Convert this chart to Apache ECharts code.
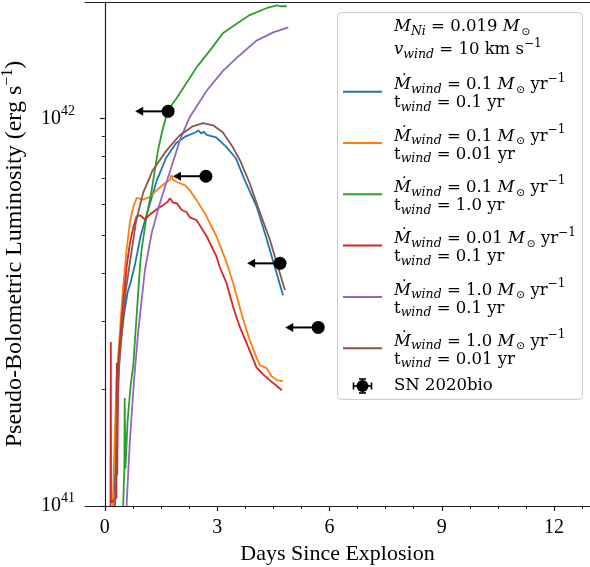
<!DOCTYPE html>
<html lang="en">
<head>
<meta charset="UTF-8">
<title>SN 2020bio wind models</title>
<style>
    html, body { margin: 0; padding: 0; background: #fff; }
    #main { width: 590px; height: 567px; }
</style>
</head>
<body>
<div id="main"></div>
<script src="https://cdn.jsdelivr.net/npm/echarts@6/dist/echarts.min.js"></script>
<script>
// model light curves, [days since explosion, erg/s]
var mdot01_t01 = [[0.21,1.0e41],[0.27,1.17e41],[0.40,2.57e41],[0.53,3.20e41],[0.61,3.57e41],[0.69,3.78e41],[0.80,4.18e41],
    [0.96,5.00e41],[1.15,5.80e41],[1.39,6.93e41],[1.63,7.90e41],[1.90,8.64e41],[2.16,9.00e41],[2.43,9.22e41],[2.50,9.32e41],
    [2.58,9.15e41],[2.64,9.26e41],[2.72,9.08e41],[2.97,8.95e41],[3.23,8.48e41],[3.50,7.90e41],[3.74,6.93e41],[4.06,5.91e41],
    [4.33,4.86e41],[4.54,4.14e41],[4.76,3.50e41]];
var mdot01_t001 = [[0.21,1.0e41],[0.31,2.11e41],[0.40,2.79e41],[0.48,3.61e41],[0.58,4.58e41],[0.67,5.40e41],[0.76,5.92e41],
    [0.85,6.24e41],[1.02,6.18e41],[1.20,6.27e41],[1.38,6.53e41],[1.60,6.80e41],[1.74,6.95e41],[1.78,7.15e41],[1.82,6.95e41],
    [1.92,6.86e41],[2.14,6.73e41],[2.27,6.53e41],[2.45,6.16e41],[2.67,5.70e41],[2.98,4.97e41],[3.25,4.26e41],[3.42,3.78e41],
    [3.70,3.02e41],[3.87,2.68e41],[4.05,2.42e41],[4.14,2.31e41],[4.32,2.27e41],[4.46,2.16e41],[4.62,2.11e41],[4.76,2.10e41]];
var mdot01_t1 = [[0.49,1.0e41],[0.52,1.24e41],[0.53,1.90e41],[0.55,1.25e41],[0.61,1.67e41],[0.69,2.05e41],[0.76,2.31e41],
    [0.85,3.11e41],[0.94,4.18e41],[0.98,4.58e41],[1.11,5.56e41],[1.25,6.53e41],[1.42,8.28e41],[1.52,9.17e41],[1.68,10.5e41],
    [1.92,11.3e41],[2.19,12.4e41],[2.46,13.6e41],[2.81,15.0e41],[3.15,16.6e41],[3.53,17.6e41],[3.87,18.5e41],[4.33,19.3e41],
    [4.60,19.6e41],[4.68,19.5e41],[4.86,19.5e41]];
var mdot001_t01 = [[0.15,1.0e41],[0.16,2.65e41],[0.165,1.02e41],[0.31,1.05e41],[0.32,2.34e41],[0.33,1.2e41],[0.36,2.34e41],
    [0.45,3.02e41],[0.58,4.14e41],[0.67,4.77e41],[0.76,5.24e41],[0.85,5.60e41],[0.94,5.63e41],[1.07,5.49e41],[1.18,5.63e41],
    [1.29,5.74e41],[1.42,5.87e41],[1.56,5.98e41],[1.68,6.10e41],[1.74,6.23e41],[1.82,6.07e41],[1.92,6.05e41],[2.06,5.80e41],
    [2.18,5.74e41],[2.27,5.56e41],[2.45,5.47e41],[2.72,4.97e41],[2.98,4.41e41],[3.07,4.14e41],[3.25,3.76e41],[3.43,3.26e41],
    [3.61,2.89e41],[3.79,2.63e41],[4.05,2.28e41],[4.22,2.19e41],[4.41,2.11e41],[4.57,2.05e41],[4.73,1.99e41]];
var mdot1_t01 = [[0.58,1.0e41],[0.67,1.48e41],[0.78,2.11e41],[0.89,2.81e41],[1.07,4.06e41],[1.25,5.06e41],[1.47,6.05e41],
    [1.69,7.06e41],[1.92,8.28e41],[2.00,8.79e41],[2.27,10.1e41],[2.72,11.8e41],[3.16,13.3e41],[3.61,14.6e41],[4.05,15.9e41],
    [4.50,16.7e41],[4.90,17.2e41]];
var mdot1_t001 = [[0.27,1.0e41],[0.35,2.11e41],[0.45,2.76e41],[0.56,3.61e41],[0.67,4.26e41],[0.83,5.40e41],[1.02,6.42e41],
    [1.28,7.36e41],[1.65,8.28e41],[2.00,9.06e41],[2.35,9.55e41],[2.62,9.73e41],[2.89,9.61e41],[3.15,9.22e41],[3.42,8.43e41],
    [3.61,7.81e41],[3.87,6.81e41],[4.09,5.91e41],[4.41,4.86e41],[4.81,3.61e41]];

// SN 2020bio upper limits
var limDays = [1.69, 2.70, 4.68, 5.70];
var limLum = [10.44e41, 7.10e41, 4.23e41, 2.89e41];
var limArrow = [0.88, 0.88, 0.88, 0.88];

var modelMdot = ['0.1', '0.1', '0.1', '0.01', '1.0', '1.0'];
var modelTwind = ['0.1', '0.01', '1.0', '0.1', '0.1', '0.01'];
var modelColors = ['#1f77b4', '#ff7f0e', '#2ca02c', '#d62728', '#9467bd', '#8c564b'];
var modelData = [mdot01_t01, mdot01_t001, mdot01_t1, mdot001_t01, mdot1_t01, mdot1_t001];

var xTicks = [0, 3, 6, 9, 12];
var xMinorTicks = [0.75, 1.5, 2.25, 3.75, 4.5, 5.25, 6.75, 7.5, 8.25, 9.75, 10.5, 11.25, 12.75];
var yTicks = [1e41, 1e42];
var yMinorTicks = [2e41, 3e41, 4e41, 5e41, 6e41, 7e41, 8e41, 9e41, 2e42];

var F = 'Liberation Serif';
var LF = 'DejaVu Serif';
var INK = '#222';

var series = [];
for (var i = 0; i < modelData.length; i++) {
    series.push({
        name: 'Mdot ' + modelMdot[i] + ', t ' + modelTwind[i],
        type: 'line',
        data: modelData[i],
        showSymbol: false,
        symbol: 'none',
        lineStyle: { color: modelColors[i], width: 1.8 },
        itemStyle: { color: modelColors[i] },
        z: 2 + i
    });
}
var limData = [];
for (var k = 0; k < limDays.length; k++) limData.push([limDays[k], limLum[k], limArrow[k]]);
series.push({
    name: 'SN 2020bio',
    type: 'custom',
    data: limData,
    encode: { x: 0, y: 1 },
    clip: false,
    z: 20,
    renderItem: function (params, api) {
        var p = api.coord([api.value(0), api.value(1)]);
        var t = api.coord([api.value(0) - api.value(2), api.value(1)]);
        return {
            type: 'group',
            children: [
                { type: 'line', shape: { x1: t[0] + 6, y1: p[1], x2: p[0], y2: p[1] }, style: { stroke: '#000', lineWidth: 2 } },
                { type: 'polygon', shape: { points: [[t[0], p[1]], [t[0] + 8, p[1] - 4.5], [t[0] + 8, p[1] + 4.5]] }, style: { fill: '#000' } },
                { type: 'circle', shape: { cx: p[0], cy: p[1], r: 6.5 }, style: { fill: '#000' } }
            ]
        };
    }
});

// legend drawn by hand (math text)
var legendRich = {
    i: { fontFamily: LF, fontSize: 16.5, fontStyle: 'italic', lineHeight: 18 },
    sub: { fontFamily: LF, fontSize: 12.5, fontStyle: 'italic', lineHeight: 12, padding: [9, 0, 0, 0] },
    sun: { fontFamily: 'DejaVu Sans', fontSize: 10.5, lineHeight: 10, padding: [10, 0, 0, 2] },
    sup: { fontFamily: LF, fontSize: 12, lineHeight: 12, padding: [0, 0, 13, 0] }
};
function legendText(x, y, txt) {
    return {
        type: 'text', x: x, y: y, z: 101,
        style: { text: txt, fill: '#000', fontFamily: LF, fontSize: 16.5, lineHeight: 18,
                 align: 'left', verticalAlign: 'middle', rich: legendRich }
    };
}
var graphic = [{
    type: 'rect', z: 100,
    shape: { x: 337.5, y: 12.5, width: 245, height: 387, r: 4 },
    style: { fill: 'rgba(255,255,255,0.8)', stroke: '#cccccc', lineWidth: 1 }
}];
var textX = 394;
graphic.push(legendText(textX, 27, '{i|M}{sub|Ni} = 0.019 {i|M}{sun|⊙}'));
graphic.push(legendText(textX, 50, '{i|v}{sub|wind} = 10 km s{sup|−1}'));
for (var j = 0; j < modelMdot.length; j++) {
    var cy = 91.7 + j * 51.3;
    graphic.push({
        type: 'line', z: 101,
        shape: { x1: 343, y1: cy, x2: 382, y2: cy },
        style: { stroke: modelColors[j], lineWidth: 2 }
    });
    graphic.push(legendText(textX, cy - 6.5, '{i|Ṁ}{sub|wind} = ' + modelMdot[j] + ' {i|M}{sun|⊙} yr{sup|−1}'));
    graphic.push(legendText(textX, cy + 11.5, 't{sub|wind} = ' + modelTwind[j] + ' yr'));
}
var snY = 386;
graphic.push({
    type: 'group', z: 101,
    children: [
        { type: 'line', z: 101, shape: { x1: 353.5, y1: snY, x2: 371.5, y2: snY }, style: { stroke: '#000', lineWidth: 1.6 } },
        { type: 'line', z: 101, shape: { x1: 353.5, y1: snY - 3.5, x2: 353.5, y2: snY + 3.5 }, style: { stroke: '#000', lineWidth: 1.6 } },
        { type: 'line', z: 101, shape: { x1: 371.5, y1: snY - 3.5, x2: 371.5, y2: snY + 3.5 }, style: { stroke: '#000', lineWidth: 1.6 } },
        { type: 'line', z: 101, shape: { x1: 362.5, y1: snY - 7, x2: 362.5, y2: snY + 7 }, style: { stroke: '#000', lineWidth: 1.6 } },
        { type: 'line', z: 101, shape: { x1: 359, y1: snY - 7, x2: 366, y2: snY - 7 }, style: { stroke: '#000', lineWidth: 1.6 } },
        { type: 'line', z: 101, shape: { x1: 359, y1: snY + 7, x2: 366, y2: snY + 7 }, style: { stroke: '#000', lineWidth: 1.6 } },
        { type: 'circle', z: 101, shape: { cx: 362.5, cy: snY, r: 6 }, style: { fill: '#000' } }
    ]
});
graphic.push(legendText(textX, snY, 'SN 2020bio'));

var chart = echarts.init(document.getElementById('main'));
var option = {
    animation: false,
    backgroundColor: '#fff',
    grid: { left: 85, right: 0, top: 2, bottom: 61, containLabel: false, outerBoundsMode: 'none' },
    xAxis: [{
        type: 'value', min: -0.53, max: 12.96,
        name: 'Days Since Explosion', nameLocation: 'middle', nameGap: 31,
        nameTextStyle: { fontFamily: F, fontSize: 22, color: '#000' },
        axisLine: { show: true, lineStyle: { color: INK, width: 1.2 } },
        axisTick: { show: true, inside: false, length: 5, lineStyle: { color: INK, width: 1.2 }, customValues: xTicks },
        axisLabel: { fontFamily: F, fontSize: 20, color: '#000', margin: 12, lineHeight: 20, customValues: xTicks },
        splitLine: { show: false }
    }, {
        type: 'value', min: -0.53, max: 12.96, position: 'bottom',
        axisLine: { show: false },
        axisTick: { show: true, inside: false, length: 3, lineStyle: { color: INK, width: 1 }, customValues: xMinorTicks },
        axisLabel: { show: false },
        splitLine: { show: false }
    }, {
        type: 'value', min: -0.53, max: 12.96, position: 'top',
        axisLine: { show: true, lineStyle: { color: INK, width: 1.2 } },
        axisTick: { show: false }, axisLabel: { show: false }, splitLine: { show: false }
    }],
    yAxis: [{
        type: 'log', logBase: 10, min: 1e41, max: 2e42,
        name: 'Pseudo-Bolometric Luminosity (erg s{sup|−1})', nameLocation: 'middle', nameGap: 50, nameRotate: 90,
        nameTextStyle: { fontFamily: F, fontSize: 24, color: '#000',
            rich: { sup: { fontFamily: F, fontSize: 16, lineHeight: 16, padding: [0, 0, 14, 0] } } },
        axisLine: { show: true, lineStyle: { color: INK, width: 1.2 } },
        axisTick: { show: true, inside: false, length: 5, lineStyle: { color: INK, width: 1.2 }, customValues: yTicks },
        axisLabel: {
            customValues: yTicks, margin: 10, color: '#000',
            formatter: function (v) { return '{b|10}{sup|' + Math.round(Math.log10(v)) + '}'; },
            rich: {
                b: { fontFamily: F, fontSize: 20, lineHeight: 20 },
                sup: { fontFamily: F, fontSize: 14, lineHeight: 14, padding: [0, 0, 15, 0] }
            }
        },
        splitLine: { show: false }
    }, {
        type: 'log', logBase: 10, min: 1e41, max: 2e42, position: 'left',
        axisLine: { show: false },
        axisTick: { show: true, inside: false, length: 3, lineStyle: { color: INK, width: 1 }, customValues: yMinorTicks },
        axisLabel: { show: false },
        splitLine: { show: false }
    }],
    series: series,
    graphic: graphic
};
chart.setOption(option);
</script>
</body>
</html>
